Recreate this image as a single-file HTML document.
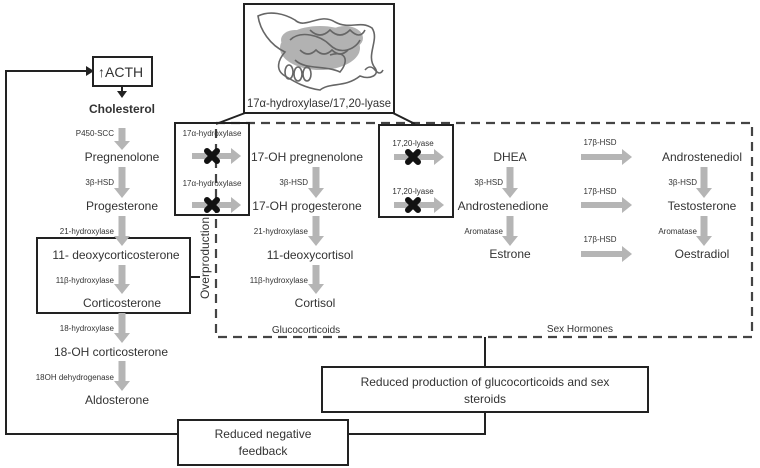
<!DOCTYPE html>
<html><head><meta charset="utf-8"><style>
html,body{margin:0;padding:0;background:#fff}
svg{display:block}
text{font-family:"Liberation Sans",sans-serif;fill:#333}
.m{font-size:12px}
.s{font-size:8px}
</style></head><body>
<svg width="760" height="468" viewBox="0 0 760 468" xmlns="http://www.w3.org/2000/svg">
<!-- dashed box -->
<rect x="216" y="123" width="536" height="214" fill="none" stroke="#444" stroke-width="2.2" stroke-dasharray="9,6"/>
<!-- protein box -->
<rect x="244" y="4" width="150" height="109" fill="#fff" stroke="#222" stroke-width="2"/>
<g fill="#999" opacity="0.75"><ellipse cx="320" cy="48" rx="40" ry="22"/><ellipse cx="345" cy="38" rx="18" ry="12"/><ellipse cx="295" cy="40" rx="14" ry="10"/></g>
<g fill="none" stroke="#666" stroke-width="1.6">
<path d="M258,16 C270,10 285,14 295,20 C305,30 320,12 335,22 C350,30 360,20 372,28 C380,40 365,55 375,68 C380,75 370,80 360,76 C345,88 330,82 320,90 C305,88 295,82 285,76 C275,70 278,60 285,52 C270,45 260,30 258,16Z"/>
<path d="M290,40 C300,30 320,35 330,45 C340,55 355,50 360,40"/>
<path d="M295,60 C305,70 325,65 340,72 C350,60 345,50 330,55"/>
<ellipse cx="289" cy="72" rx="4" ry="7"/><ellipse cx="298" cy="74" rx="4" ry="7"/><ellipse cx="307" cy="74" rx="4" ry="7"/>
<path d="M310,30 q10,10 20,0 q10,10 20,0 q10,10 15,0"/>
<path d="M300,50 q8,8 16,0 q8,8 16,0 q8,8 16,0"/>
<path d="M365,70 q5,-6 10,0 q5,6 8,0"/>
</g>
<text class="m" x="319" y="107" text-anchor="middle" textLength="144" lengthAdjust="spacingAndGlyphs">17α-hydroxylase/17,20-lyase</text>
<line x1="245" y1="113" x2="216" y2="124" stroke="#222" stroke-width="2"/>
<line x1="393" y1="113" x2="415" y2="124" stroke="#222" stroke-width="2"/>
<!-- ACTH -->
<rect x="93" y="57" width="59" height="29" fill="#fff" stroke="#222" stroke-width="2"/>
<text x="98" y="77" style="font-size:14px">↑ACTH</text>
<line x1="122" y1="86" x2="122" y2="92" stroke="#222" stroke-width="2"/>
<polygon points="117,91 127,91 122,98" fill="#222"/>
<text class="m" x="122" y="113" text-anchor="middle" font-weight="bold">Cholesterol</text>
<!-- feedback line -->
<polyline points="178,434 6,434 6,71 86,71" fill="none" stroke="#222" stroke-width="2"/>
<polygon points="86,66 94,71 86,76" fill="#222"/>
<polyline points="348,434 485,434 485,412" fill="none" stroke="#222" stroke-width="2"/>
<line x1="485" y1="337" x2="485" y2="367" stroke="#222" stroke-width="2"/>
<rect x="178" y="420" width="170" height="45" fill="#fff" stroke="#222" stroke-width="2"/>
<text class="m" x="263" y="438" text-anchor="middle">Reduced negative</text>
<text class="m" x="263" y="455" text-anchor="middle">feedback</text>
<rect x="322" y="367" width="326" height="45" fill="#fff" stroke="#222" stroke-width="2"/>
<text class="m" x="485" y="386" text-anchor="middle">Reduced production of glucocorticoids and sex</text>
<text class="m" x="485" y="403" text-anchor="middle">steroids</text>
<!-- corticosterone box -->
<rect x="37" y="238" width="153" height="75" fill="none" stroke="#222" stroke-width="2"/>
<line x1="190" y1="277" x2="200" y2="277" stroke="#222" stroke-width="2"/>
<text class="m" x="209" y="258" text-anchor="middle" transform="rotate(-90 209 258)">Overproduction</text>
<!-- grey arrows -->
<g fill="#b5b5b5">
<polygon points="118.5,128 125.5,128 125.5,141 130,141 122,150 114,141 118.5,141"/>
<polygon points="118.5,167 125.5,167 125.5,188 130,188 122,198 114,188 118.5,188"/>
<polygon points="118.5,216 125.5,216 125.5,236 130,236 122,246 114,236 118.5,236"/>
<polygon points="118.5,265 125.5,265 125.5,284 130,284 122,294 114,284 118.5,284"/>
<polygon points="118.5,313 125.5,313 125.5,333 130,333 122,343 114,333 118.5,333"/>
<polygon points="118.5,361 125.5,361 125.5,381 130,381 122,391 114,381 118.5,381"/>
<polygon points="312.5,167 319.5,167 319.5,188 324,188 316,198 308,188 312.5,188"/>
<polygon points="312.5,216 319.5,216 319.5,236 324,236 316,246 308,236 312.5,236"/>
<polygon points="312.5,265 319.5,265 319.5,284 324,284 316,294 308,284 312.5,284"/>
<polygon points="506.5,167 513.5,167 513.5,188 518,188 510,198 502,188 506.5,188"/>
<polygon points="506.5,216 513.5,216 513.5,236 518,236 510,246 502,236 506.5,236"/>
<polygon points="700.5,167 707.5,167 707.5,188 712,188 704,198 696,188 700.5,188"/>
<polygon points="700.5,216 707.5,216 707.5,236 712,236 704,246 696,236 700.5,236"/>
<polygon points="192,153 231,153 231,148 241,156 231,164 231,159 192,159"/>
<polygon points="192,202 231,202 231,197 241,205 231,213 231,208 192,208"/>
<polygon points="394,154 434,154 434,149 444,157 434,165 434,160 394,160"/>
<polygon points="394,202 434,202 434,197 444,205 434,213 434,208 394,208"/>
<polygon points="581,154 622,154 622,149 632,157 622,165 622,160 581,160"/>
<polygon points="581,202 622,202 622,197 632,205 622,213 622,208 581,208"/>
<polygon points="581,251 622,251 622,246 632,254 622,262 622,257 581,257"/>
</g>
<!-- enzyme boxes -->
<rect x="175" y="123" width="74" height="92" fill="none" stroke="#222" stroke-width="2"/>
<rect x="379" y="125" width="74" height="92" fill="none" stroke="#222" stroke-width="2"/>
<g stroke="#111" stroke-width="6" stroke-linecap="round">
<path d="M207,151 l10,10 M217,151 l-10,10"/>
<path d="M207,200 l10,10 M217,200 l-10,10"/>
<path d="M408,152 l10,10 M418,152 l-10,10"/>
<path d="M408,200 l10,10 M418,200 l-10,10"/>
</g>
<!-- small labels -->
<text class="s" x="212" y="136" text-anchor="middle">17α-hydroxylase</text>
<text class="s" x="212" y="186" text-anchor="middle">17α-hydroxylase</text>
<text class="s" x="413" y="146" text-anchor="middle">17,20-lyase</text>
<text class="s" x="413" y="194" text-anchor="middle">17,20-lyase</text>
<text class="s" x="114" y="136" text-anchor="end">P450-SCC</text>
<text class="s" x="114" y="185" text-anchor="end">3β-HSD</text>
<text class="s" x="114" y="234" text-anchor="end">21-hydroxylase</text>
<text class="s" x="114" y="283" text-anchor="end">11β-hydroxylase</text>
<text class="s" x="114" y="331" text-anchor="end">18-hydroxylase</text>
<text class="s" x="114" y="380" text-anchor="end">18OH dehydrogenase</text>
<text class="s" x="308" y="185" text-anchor="end">3β-HSD</text>
<text class="s" x="308" y="234" text-anchor="end">21-hydroxylase</text>
<text class="s" x="308" y="283" text-anchor="end">11β-hydroxylase</text>
<text class="s" x="503" y="185" text-anchor="end">3β-HSD</text>
<text class="s" x="503" y="234" text-anchor="end">Aromatase</text>
<text class="s" x="697" y="185" text-anchor="end">3β-HSD</text>
<text class="s" x="697" y="234" text-anchor="end">Aromatase</text>
<text class="s" x="600" y="145" text-anchor="middle">17β-HSD</text>
<text class="s" x="600" y="194" text-anchor="middle">17β-HSD</text>
<text class="s" x="600" y="242" text-anchor="middle">17β-HSD</text>
<!-- main labels -->
<text class="m" x="122" y="161" text-anchor="middle">Pregnenolone</text>
<text class="m" x="122" y="210" text-anchor="middle">Progesterone</text>
<text class="m" x="116" y="259" text-anchor="middle">11- deoxycorticosterone</text>
<text class="m" x="122" y="307" text-anchor="middle">Corticosterone</text>
<text class="m" x="111" y="356" text-anchor="middle">18-OH corticosterone</text>
<text class="m" x="117" y="404" text-anchor="middle">Aldosterone</text>
<text class="m" x="307" y="161" text-anchor="middle">17-OH pregnenolone</text>
<text class="m" x="307" y="210" text-anchor="middle">17-OH progesterone</text>
<text class="m" x="310" y="259" text-anchor="middle">11-deoxycortisol</text>
<text class="m" x="315" y="307" text-anchor="middle">Cortisol</text>
<text x="306" y="333" text-anchor="middle" style="font-size:10px">Glucocorticoids</text>
<text class="m" x="510" y="161" text-anchor="middle">DHEA</text>
<text class="m" x="503" y="210" text-anchor="middle">Androstenedione</text>
<text class="m" x="510" y="258" text-anchor="middle">Estrone</text>
<text class="m" x="702" y="161" text-anchor="middle">Androstenediol</text>
<text class="m" x="702" y="210" text-anchor="middle">Testosterone</text>
<text class="m" x="702" y="258" text-anchor="middle">Oestradiol</text>
<text x="580" y="332" text-anchor="middle" style="font-size:10px">Sex Hormones</text>
</svg>
</body></html>
